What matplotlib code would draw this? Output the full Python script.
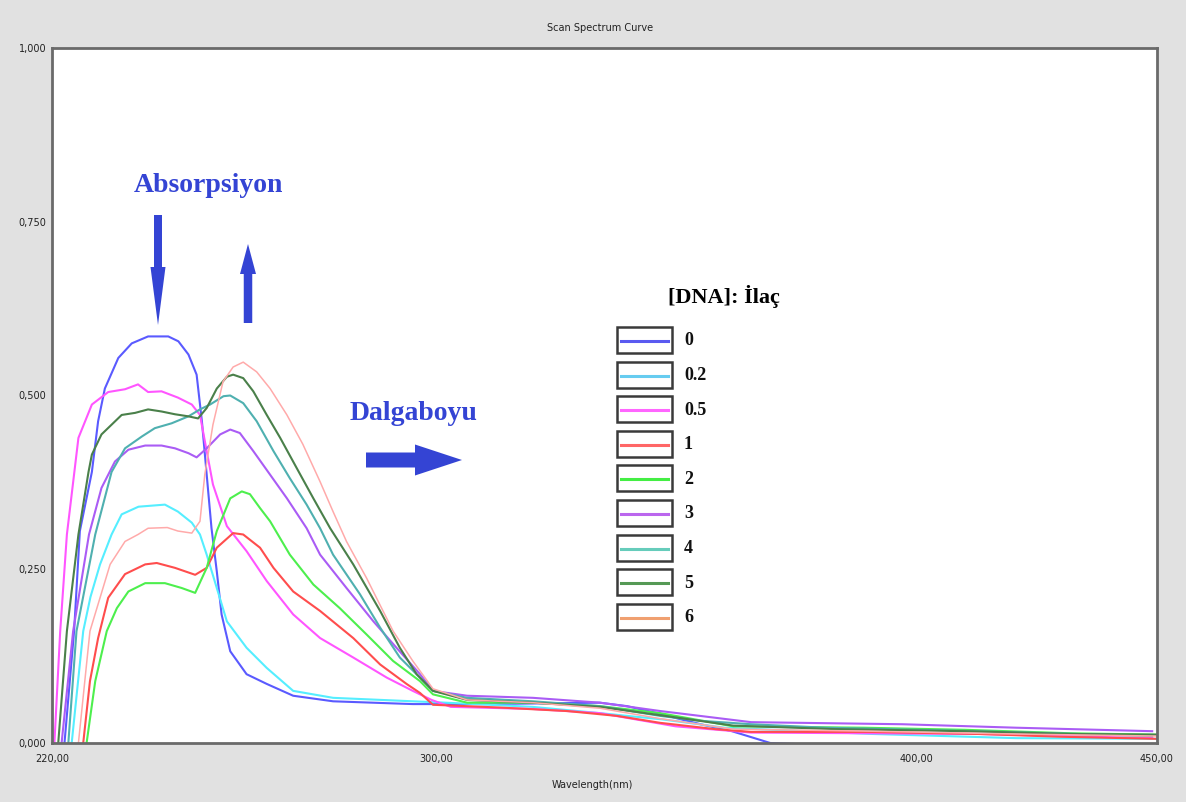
import matplotlib
matplotlib.use("Agg")
import matplotlib.pyplot as plt
from matplotlib.patches import FancyArrow, Rectangle
from matplotlib.lines import Line2D

# ---------------- data ----------------
series_labels = ["0", "0.2", "0.5", "1", "2", "3", "4", "5", "6"]

wl_0 = [222.6, 224.6, 225.8, 228.3, 229.6, 231.0, 233.8, 236.6, 240.0, 244.2, 246.3, 248.4, 250.1, 251.2,
        252.2, 253.2, 254.3, 255.3, 257.1, 260.5, 264.7, 270.2, 278.5, 295.1, 310.0, 334.0, 339.7, 346.6,
        349.8, 355.0, 361.5, 369.5, 376.5]
ab_0 = [0.0, 0.161, 0.305, 0.39, 0.463, 0.51, 0.554, 0.575, 0.585, 0.585, 0.578, 0.559, 0.53, 0.463,
        0.386, 0.309, 0.247, 0.185, 0.132, 0.099, 0.085, 0.068, 0.060, 0.056, 0.056, 0.058, 0.053, 0.042,
        0.036, 0.027, 0.017, 0.0, -0.002]

wl_02 = [224.1, 226.5, 228.0, 230.0, 232.4, 234.5, 238.0, 243.5, 246.2, 249.1, 250.8, 252.2, 254.3, 256.4,
         260.5, 264.7, 270.2, 278.5, 295.1, 302.0, 320.0, 334.0, 347.0, 360.0, 390.7, 420.7, 450.0]
ab_02 = [0.0, 0.161, 0.21, 0.257, 0.30, 0.329, 0.34, 0.343, 0.333, 0.317, 0.30, 0.271, 0.223, 0.175,
         0.137, 0.108, 0.075, 0.065, 0.060, 0.058, 0.052, 0.043, 0.034, 0.022, 0.013, 0.007, 0.006]

wl_05 = [220.5, 221.7, 223.1, 225.5, 228.3, 231.7, 235.2, 237.9, 240.0, 242.8, 246.2, 249.1, 250.8, 252.2,
         253.5, 256.4, 260.5, 264.7, 270.2, 275.8, 282.7, 289.7, 295.1, 299.0, 303.0, 320.0, 334.0, 349.8,
         365.5, 412.8, 449.0]
ab_05 = [0.0, 0.16, 0.30, 0.439, 0.487, 0.505, 0.509, 0.516, 0.505, 0.506, 0.497, 0.487, 0.472, 0.42,
         0.372, 0.312, 0.276, 0.233, 0.185, 0.151, 0.123, 0.094, 0.075, 0.062, 0.052, 0.049, 0.043, 0.024,
         0.015, 0.013, 0.007]

wl_1 = [226.5, 227.9, 229.6, 231.7, 235.2, 239.4, 241.8, 245.6, 249.8, 252.2, 254.3, 257.7, 259.8, 263.3,
        266.1, 270.2, 275.8, 282.7, 288.3, 293.8, 296.6, 299.3, 313.3, 327.2, 337.6, 346.6, 358.0, 365.5,
        390.0, 412.8, 430.0, 450.0]
ab_1 = [0.0, 0.089, 0.151, 0.209, 0.243, 0.257, 0.259, 0.252, 0.242, 0.252, 0.281, 0.302, 0.30, 0.281,
        0.252, 0.218, 0.19, 0.151, 0.113, 0.085, 0.072, 0.055, 0.051, 0.046, 0.039, 0.029, 0.020, 0.016,
        0.016, 0.013, 0.009, 0.006]

wl_2 = [227.2, 229.0, 231.4, 233.5, 235.9, 239.4, 243.5, 247.0, 249.8, 252.2, 254.3, 257.1, 259.5, 261.2,
        263.3, 265.4, 269.5, 274.4, 279.9, 285.5, 291.0, 296.6, 299.3, 306.4, 320.1, 334.1, 346.6, 361.8,
        389.0, 410.0, 432.0, 450.0]
ab_2 = [0.0, 0.089, 0.161, 0.194, 0.218, 0.23, 0.23, 0.223, 0.216, 0.252, 0.305, 0.352, 0.362, 0.358,
        0.338, 0.319, 0.271, 0.228, 0.194, 0.156, 0.118, 0.089, 0.07, 0.058, 0.058, 0.053, 0.043, 0.024,
        0.022, 0.019, 0.014, 0.012]

wl_3 = [222.0, 224.4, 227.7, 230.3, 233.1, 235.9, 239.4, 242.8, 245.6, 248.4, 250.1, 252.2, 255.0, 257.1,
        259.1, 261.9, 265.4, 268.9, 273.0, 275.8, 281.3, 286.9, 291.7, 296.6, 299.3, 306.4, 320.1, 334.1,
        346.6, 365.5, 397.0, 420.7, 449.0]
ab_3 = [0.0, 0.161, 0.30, 0.367, 0.405, 0.422, 0.428, 0.428, 0.424, 0.417, 0.411, 0.424, 0.444, 0.451,
        0.446, 0.42, 0.386, 0.352, 0.309, 0.271, 0.223, 0.175, 0.137, 0.099, 0.075, 0.068, 0.065, 0.058,
        0.046, 0.030, 0.027, 0.022, 0.017]

wl_4 = [223.4, 225.1, 229.0, 232.4, 235.2, 238.7, 241.4, 244.9, 248.4, 250.8, 252.9, 255.7, 257.1, 259.8,
        262.6, 266.1, 269.5, 273.0, 275.8, 278.5, 284.1, 288.3, 292.4, 296.6, 299.3, 306.4, 320.1, 334.1,
        346.6, 354.9, 365.5, 381.0, 412.8, 449.0]
ab_4 = [0.0, 0.161, 0.30, 0.39, 0.424, 0.441, 0.453, 0.46, 0.47, 0.48, 0.487, 0.499, 0.50, 0.489,
        0.463, 0.42, 0.381, 0.343, 0.309, 0.271, 0.214, 0.166, 0.123, 0.094, 0.075, 0.065, 0.060, 0.053,
        0.039, 0.032, 0.027, 0.022, 0.017, 0.010]

wl_5 = [221.3, 223.1, 225.5, 227.6, 228.3, 230.3, 232.4, 234.5, 237.3, 240.0, 242.8, 245.6, 248.4, 250.4,
        252.2, 254.3, 256.4, 257.7, 259.8, 261.9, 264.7, 267.5, 270.9, 274.4, 277.9, 282.7, 288.3, 292.4,
        295.9, 299.3, 306.4, 320.1, 334.1, 346.6, 361.8, 383.0, 410.0, 432.0, 450.0]
ab_5 = [0.0, 0.161, 0.30, 0.39, 0.415, 0.444, 0.458, 0.472, 0.475, 0.48, 0.477, 0.473, 0.47, 0.467,
        0.482, 0.51, 0.527, 0.53, 0.525, 0.506, 0.472, 0.439, 0.396, 0.352, 0.309, 0.257, 0.19, 0.137,
        0.099, 0.075, 0.062, 0.058, 0.052, 0.040, 0.025, 0.020, 0.017, 0.013, 0.012]

wl_6 = [225.5, 227.9, 232.1, 235.2, 237.9, 240.0, 244.0, 246.2, 249.1, 250.8, 251.8, 253.5, 255.6, 257.7,
        259.8, 262.6, 265.4, 268.9, 272.2, 275.8, 278.5, 281.3, 285.5, 291.0, 295.1, 299.3, 306.4, 320.1,
        334.1, 346.6, 361.8, 390.0, 420.0, 450.0]
ab_6 = [0.0, 0.161, 0.257, 0.29, 0.30, 0.309, 0.31, 0.305, 0.302, 0.319, 0.386, 0.458, 0.52, 0.541,
        0.548, 0.534, 0.51, 0.472, 0.43, 0.376, 0.333, 0.29, 0.237, 0.161, 0.118, 0.078, 0.062, 0.058,
        0.050, 0.035, 0.020, 0.017, 0.013, 0.010]

wavelengths = [wl_0, wl_02, wl_05, wl_1, wl_2, wl_3, wl_4, wl_5, wl_6]
absorbances = [ab_0, ab_02, ab_05, ab_1, ab_2, ab_3, ab_4, ab_5, ab_6]

x_ticks = [220, 300, 400, 450]
x_tick_labels = ["220,00", "300,00", "400,00", "450,00"]
y_ticks = [0.0, 0.25, 0.5, 0.75, 1.0]
y_tick_labels = ["0,000", "0,250", "0,500", "0,750", "1,000"]

curve_colors = ["#5a5aff", "#55eeff", "#ff55ff", "#ff4d4d", "#4def4d", "#aa5cf5", "#4fb0b0", "#4a804a", "#ffaaaa"]
legend_colors = ["#5a5af0", "#66ccf0", "#ff66ff", "#ff6666", "#44ee44", "#bb66ee", "#66ccbb", "#559955", "#f0a070"]
curve_widths = [1.5, 1.5, 1.5, 1.5, 1.5, 1.5, 1.5, 1.5, 1.1]

# ---------------- figure ----------------
W, H = 1186, 802
fig = plt.figure(figsize=(W / 100, H / 100), dpi=100, facecolor="#e1e1e1")
ax = fig.add_axes([52 / W, 1 - 743 / H, 1105 / W, 695 / H])
ax.set_facecolor("white")

for wl, ab, c, lw in zip(wavelengths, absorbances, curve_colors, curve_widths):
    ax.plot(wl, ab, color=c, lw=lw, solid_joinstyle="round")

ax.set_xlim(220, 450)
ax.set_ylim(0, 1)
ax.set_xticks(x_ticks)
ax.set_xticklabels(x_tick_labels)
ax.set_yticks(y_ticks)
ax.set_yticklabels(y_tick_labels)
ax.tick_params(length=0, labelsize=7, colors="#222222")
ax.tick_params(axis="x", pad=8)
ax.tick_params(axis="y", pad=4)
for s in ax.spines.values():
    s.set_color("#6a6a6a")
    s.set_linewidth(2)

T = fig.dpi_scale_trans


def P(px, py):
    return px / 100, (H - py) / 100


fig.text(*P(600, 28), "Scan Spectrum Curve", transform=T, ha="center", va="center", fontsize=7, color="#222222")
fig.text(*P(592, 785), "Wavelength(nm)", transform=T, ha="center", va="center", fontsize=7, color="#222222")

# annotations
acol = "#3444d4"
serif = ["Liberation Serif", "DejaVu Serif"]
fig.text(*P(208, 185), "Absorpsiyon", transform=T, ha="center", va="center", fontsize=20,
         fontweight="bold", color=acol, family=serif)
fig.text(*P(414, 413), "Dalgaboyu", transform=T, ha="center", va="center", fontsize=20,
         fontweight="bold", color=acol, family=serif)

x0, y0 = P(158, 215)
x1, y1 = P(158, 325)
fig.add_artist(FancyArrow(x0, y0, 0, y1 - y0, width=0.08, head_width=0.15, head_length=0.58,
                          length_includes_head=True, transform=T, color=acol, lw=0))
x0, y0 = P(248, 323)
x1, y1 = P(248, 244)
fig.add_artist(FancyArrow(x0, y0, 0, y1 - y0, width=0.085, head_width=0.16, head_length=0.30,
                          length_includes_head=True, transform=T, color=acol, lw=0))
x0, y0 = P(366, 460)
x1, y1 = P(462, 460)
fig.add_artist(FancyArrow(x0, y0, x1 - x0, 0, width=0.15, head_width=0.31, head_length=0.47,
                          length_includes_head=True, transform=T, color=acol, lw=0))

# legend
fig.text(*P(724, 296), "[DNA]: İlaç", transform=T, ha="center", va="center", fontsize=16,
         fontweight="bold", color="black", family=serif)
for i, (lab, c) in enumerate(zip(series_labels, legend_colors)):
    cy = 340 + i * 34.6
    bx, by = P(617, cy + 13)
    fig.add_artist(Rectangle((bx, by), 0.55, 0.26, transform=T, facecolor="white",
                             edgecolor="#3a3a3a", lw=1.8))
    lx0, ly = P(621, cy + 1)
    fig.add_artist(Line2D([lx0, lx0 + 0.47], [ly, ly], transform=T, color=c, lw=2.2))
    fig.text(*P(684, cy + 1), lab, transform=T, ha="left", va="center", fontsize=13,
             fontweight="bold", color="#111111", family=serif)

fig.savefig("out.png", dpi=100, facecolor=fig.get_facecolor())
